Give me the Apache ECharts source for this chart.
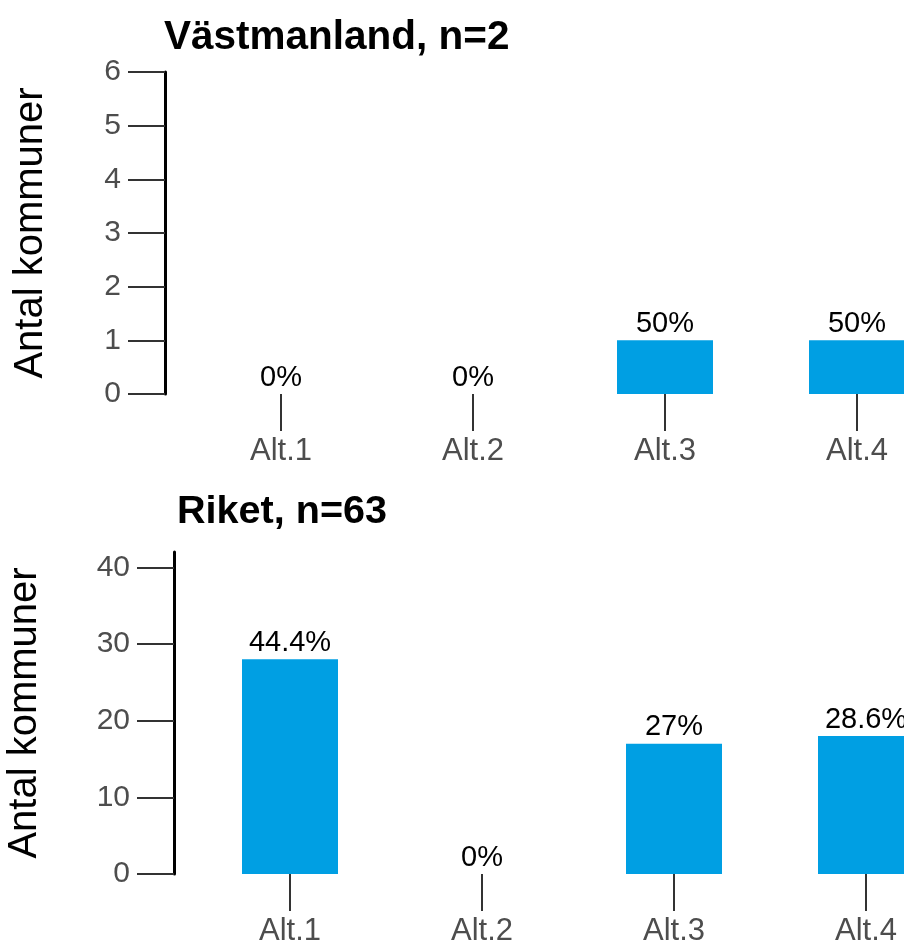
<!DOCTYPE html>
<html>
<head>
<meta charset="utf-8">
<script src="https://cdn.jsdelivr.net/npm/echarts@6/dist/echarts.min.js"></script>
<style>
html,body{margin:0;padding:0;background:#fff;}
#chart{width:904px;height:947px;}
</style>
</head>
<body>
<div id="chart"></div>
<script>
const categories = ['Alt.1', 'Alt.2', 'Alt.3', 'Alt.4'];
const titleTop = 'Västmanland, n=2';
const titleBottom = 'Riket, n=63';
const nTop = 2;
const nBottom = 63;
const valuesTop = [0, 0, 1, 1];
const valuesBottom = [28, 0, 17, 18];
const ticksTop = [0, 1, 2, 3, 4, 5, 6];
const ticksBottom = [0, 10, 20, 30, 40];
const yName = 'Antal kommuner';

const FONT = '"Liberation Sans", Arial, sans-serif';
const BAR = '#009FE3';

function pct(v, n) {
  const p = Math.round(v / n * 1000) / 10;
  return p + '%';
}

function xAxisCfg(gi) {
  return {
    type: 'category', gridIndex: gi, data: categories,
    axisLine: { show: false },
    axisTick: { show: true, alignWithLabel: true, length: 37, lineStyle: { color: '#333', width: 2 } },
    axisLabel: { color: '#4d4d4d', fontSize: 31, fontFamily: FONT, margin: 42 }
  };
}
function yAxisCfg(gi, max, ticks, gap) {
  return {
    type: 'value', gridIndex: gi, min: 0, max: max, offset: 20,
    name: yName, nameLocation: 'middle', nameGap: gap,
    nameTextStyle: { color: '#000', fontSize: 40, fontFamily: FONT },
    axisLine: { show: true, lineStyle: { color: '#000', width: 3 } },
    axisTick: { show: true, length: 37, lineStyle: { color: '#333', width: 2 }, customValues: ticks },
    axisLabel: { color: '#4d4d4d', fontSize: 30, fontFamily: FONT, margin: 44, customValues: ticks },
    splitLine: { show: false }
  };
}
function seriesCfg(gi, values, n) {
  return {
    type: 'bar', xAxisIndex: gi, yAxisIndex: gi, data: values, barWidth: '50%',
    itemStyle: { color: BAR },
    label: {
      show: true, position: 'top', distance: 2, color: '#000', fontSize: 29, fontFamily: FONT,
      formatter: p => pct(p.value, n)
    }
  };
}

const chart = echarts.init(document.getElementById('chart'), null, { renderer: 'canvas' });
chart.setOption({
  backgroundColor: '#fff',
  animation: false,
  title: [
    { text: titleTop, left: 159, top: 12, textStyle: { fontSize: 40.5, fontWeight: 'bold', color: '#000', fontFamily: FONT } },
    { text: titleBottom, left: 172, top: 487, textStyle: { fontSize: 39.6, fontWeight: 'bold', color: '#000', fontFamily: FONT } }
  ],
  grid: [
    { left: 185, top: 72, width: 768, height: 322, containLabel: false, outerBoundsMode: 'none' },
    { left: 194, top: 552, width: 768, height: 322, containLabel: false, outerBoundsMode: 'none' }
  ],
  xAxis: [xAxisCfg(0), xAxisCfg(1)],
  yAxis: [yAxisCfg(0, 6, ticksTop, 114), yAxisCfg(1, 42, ticksBottom, 129)],
  series: [seriesCfg(0, valuesTop, nTop), seriesCfg(1, valuesBottom, nBottom)]
});
</script>
</body>
</html>
